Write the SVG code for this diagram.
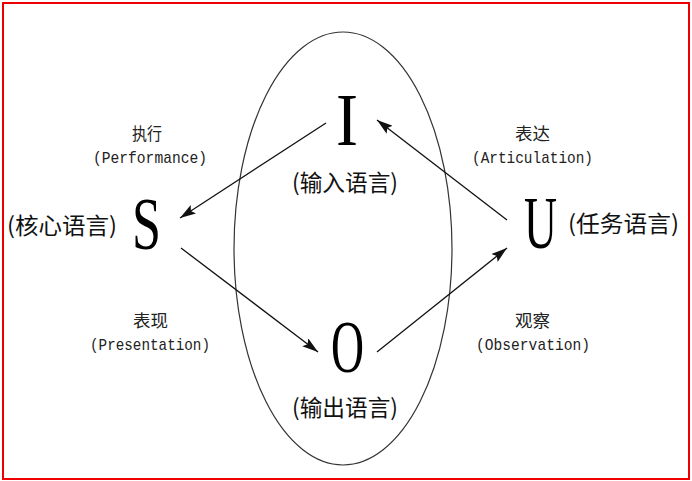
<svg xmlns="http://www.w3.org/2000/svg" width="692" height="481" viewBox="0 0 692 481">
<style>
.big{font-family:"Liberation Serif","Noto Serif",serif;font-size:75px;fill:#000}
.cn{font-family:"Noto Sans CJK SC","Noto Sans",sans-serif;font-size:23px;fill:#111}
.cns{font-family:"Noto Sans CJK SC","Noto Sans",sans-serif;font-size:17px;fill:#222}
.en{font-family:"Liberation Mono","DejaVu Sans Mono",monospace;font-size:17px;fill:#222}
.edge{stroke:#111;stroke-width:1.3;fill:none;marker-end:url(#ah)}
</style>
<defs>
<marker id="ah" viewBox="0 0 16 10" refX="16" refY="5" markerWidth="16" markerHeight="10" markerUnits="userSpaceOnUse" orient="auto">
<path d="M0,0 L16,5 L0,10 L3,5 Z" fill="#111"/>
</marker>
</defs>
<rect x="0" y="0" width="692" height="481" fill="#fff"/>
<rect x="3" y="3" width="686" height="476" fill="none" stroke="#e00" stroke-width="2"/>
<ellipse id="ellipse" cx="343" cy="248.5" rx="109" ry="216.5" fill="none" stroke="#333" stroke-width="1.2"/>
<g id="connectors">
<line class="edge" x1="326" y1="123" x2="180" y2="218"/>
<line class="edge" x1="507" y1="220" x2="377" y2="120"/>
<line class="edge" x1="181" y1="248" x2="318" y2="352"/>
<line class="edge" x1="377" y1="352" x2="507" y2="248"/>
</g>
<g id="node-I">
<text class="big" x="336" y="145" textLength="22" lengthAdjust="spacingAndGlyphs">I</text>
<text class="cn" x="292" y="191" textLength="106" lengthAdjust="spacingAndGlyphs">(输入语言)</text>
</g>
<g id="node-S">
<text class="big" x="132" y="249" textLength="29" lengthAdjust="spacingAndGlyphs">S</text>
<text class="cn" x="7" y="234" textLength="110" lengthAdjust="spacingAndGlyphs">(核心语言)</text>
</g>
<g id="node-U">
<text class="big" x="524" y="248" textLength="33" lengthAdjust="spacingAndGlyphs">U</text>
<text class="cn" x="568" y="232" textLength="111" lengthAdjust="spacingAndGlyphs">(任务语言)</text>
</g>
<g id="node-O">
<text class="big" x="331" y="372" textLength="33" lengthAdjust="spacingAndGlyphs">O</text>
<text class="cn" x="292" y="416" textLength="106" lengthAdjust="spacingAndGlyphs">(输出语言)</text>
</g>
<g id="label-performance">
<text class="cns" x="132" y="140" textLength="30" lengthAdjust="spacingAndGlyphs">执行</text>
<text class="en" x="93" y="163" textLength="114" lengthAdjust="spacingAndGlyphs">(Performance)</text>
</g>
<g id="label-articulation">
<text class="cns" x="515" y="140" textLength="35" lengthAdjust="spacingAndGlyphs">表达</text>
<text class="en" x="472" y="163" textLength="121" lengthAdjust="spacingAndGlyphs">(Articulation)</text>
</g>
<g id="label-presentation">
<text class="cns" x="133" y="327" textLength="35" lengthAdjust="spacingAndGlyphs">表现</text>
<text class="en" x="90" y="350" textLength="120" lengthAdjust="spacingAndGlyphs">(Presentation)</text>
</g>
<g id="label-observation">
<text class="cns" x="515" y="327" textLength="35" lengthAdjust="spacingAndGlyphs">观察</text>
<text class="en" x="476" y="350" textLength="114" lengthAdjust="spacingAndGlyphs">(Observation)</text>
</g>
</svg>
